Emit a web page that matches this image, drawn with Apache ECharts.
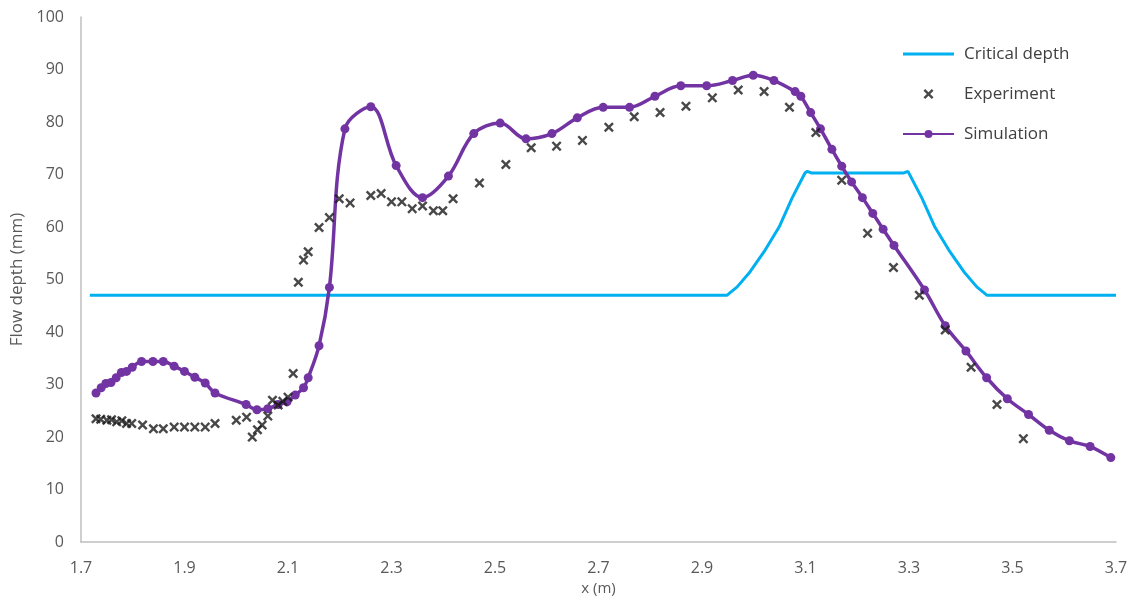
<!DOCTYPE html>
<html>
<head>
<meta charset="utf-8">
<script src="https://cdn.jsdelivr.net/npm/echarts@6/dist/echarts.min.js"></script>
<style>
  html, body { margin: 0; padding: 0; background: #ffffff; }
  #chart { width: 1134px; height: 601px; }
</style>
</head>
<body>
<div id="chart"></div>
<script>
// Critical depth along the flume (x in m, depth in mm)
const criticalX = [1.717, 2.948, 2.968, 2.993, 3.020, 3.049, 3.074, 3.099, 3.103, 3.112, 3.290, 3.298, 3.300, 3.325, 3.350, 3.379, 3.406, 3.431, 3.451, 3.700];
const criticalY = [47.0, 47.0, 48.6, 51.5, 55.3, 60.0, 65.5, 70.3, 70.6, 70.3, 70.3, 70.6, 70.3, 65.5, 60.0, 55.3, 51.5, 48.6, 47.0, 47.0];

// Measured flow depth
const experimentX = [1.729, 1.738, 1.750, 1.759, 1.769, 1.779, 1.788, 1.798, 1.819, 1.840, 1.859, 1.880, 1.900, 1.920, 1.940, 1.959,
  2.000, 2.020, 2.031, 2.041, 2.050, 2.061, 2.070, 2.081, 2.090, 2.100, 2.110, 2.120, 2.130, 2.139, 2.160, 2.180, 2.199, 2.220,
  2.260, 2.280, 2.300, 2.320, 2.340, 2.360, 2.381, 2.399, 2.419, 2.470, 2.521, 2.570, 2.619, 2.669, 2.720, 2.769, 2.819, 2.869,
  2.920, 2.970, 3.020, 3.069, 3.120, 3.170, 3.220, 3.270, 3.320, 3.370, 3.420, 3.470, 3.521];
const experimentY = [23.5, 23.4, 23.2, 23.3, 22.9, 23.1, 22.6, 22.6, 22.3, 21.6, 21.6, 21.9, 21.9, 21.9, 21.9, 22.6,
  23.2, 23.8, 20.0, 21.4, 22.3, 24.0, 27.0, 26.1, 26.8, 27.6, 32.1, 49.5, 53.7, 55.3, 59.9, 61.8, 65.4, 64.6,
  66.0, 66.4, 64.8, 64.8, 63.5, 64.0, 63.1, 63.1, 65.4, 68.4, 71.9, 75.1, 75.4, 76.5, 79.0, 81.0, 81.8, 83.0,
  84.6, 86.1, 85.8, 82.8, 78.0, 68.9, 58.8, 52.3, 47.0, 40.4, 33.3, 26.2, 19.7];

// Simulated flow depth
const simulationX = [1.729, 1.739, 1.748, 1.758, 1.768, 1.778, 1.788, 1.799, 1.817, 1.839, 1.859, 1.880, 1.900, 1.920, 1.940, 1.959,
  2.019, 2.040, 2.061, 2.081, 2.098, 2.114, 2.130, 2.139, 2.160, 2.180, 2.210, 2.260, 2.309, 2.360, 2.410, 2.459, 2.510,
  2.560, 2.610, 2.659, 2.709, 2.760, 2.809, 2.859, 2.909, 2.959, 2.999, 3.039, 3.080, 3.091, 3.110, 3.129, 3.151, 3.170,
  3.189, 3.210, 3.230, 3.250, 3.271, 3.330, 3.370, 3.410, 3.450, 3.490, 3.531, 3.571, 3.610, 3.650, 3.690];
const simulationY = [28.4, 29.4, 30.2, 30.4, 31.3, 32.3, 32.5, 33.3, 34.4, 34.4, 34.4, 33.5, 32.5, 31.4, 30.3, 28.4,
  26.2, 25.2, 25.4, 26.2, 26.7, 28.0, 29.4, 31.3, 37.4, 48.5, 78.7, 82.9, 71.7, 65.6, 69.7, 77.8, 79.8,
  76.8, 77.8, 80.8, 82.8, 82.8, 84.9, 86.9, 86.9, 87.9, 88.9, 87.9, 85.8, 84.9, 81.8, 78.7, 74.8, 71.6,
  68.6, 65.6, 62.6, 59.6, 56.5, 48.0, 41.2, 36.4, 31.3, 27.3, 24.3, 21.3, 19.3, 18.2, 16.1];

// Axis settings
const xMin = 1.7, xMax = 3.7, xStep = 0.2;
const yMin = 0, yMax = 100, yStep = 10;

const pairs = (xs, ys) => xs.map((x, i) => [x, ys[i]]);

// Filled "×" glyph used for the measured points
const crossPath = 'path://M0,1.7L1.7,0L5,3.3L8.3,0L10,1.7L6.7,5L10,8.3L8.3,10L5,6.7L1.7,10L0,8.3L3.3,5Z';
// Plain bar used as the legend icon of the critical-depth line
const barIcon = 'path://M0,0H51V3H0Z';

const FONT = "'Open Sans', 'Noto Sans', 'DejaVu Sans', sans-serif";
const axisGrey = '#bfbfbf';
const textGrey = '#595959';
const blue = '#00b0f0';
const purple = '#7234a2';

const chart = echarts.init(document.getElementById('chart'), null, { renderer: 'canvas' });

chart.setOption({
  animation: false,
  backgroundColor: '#ffffff',
  textStyle: { fontFamily: FONT },
  grid: { left: 81, right: 18, top: 17, bottom: 57.5, containLabel: false },
  legend: {
    orient: 'vertical',
    left: 897,
    top: 39,
    itemWidth: 51,
    itemHeight: 10,
    itemGap: 20,
    textStyle: { fontFamily: FONT, fontSize: 17, color: '#404040', lineHeight: 20, padding: [0, 0, 0, 5] },
    data: [
      { name: 'Critical depth', icon: barIcon, itemStyle: { color: blue } },
      'Experiment',
      'Simulation'
    ]
  },
  xAxis: {
    type: 'value',
    min: xMin,
    max: xMax,
    interval: xStep,
    name: 'x (m)',
    nameLocation: 'middle',
    nameGap: 34,
    nameTextStyle: { fontFamily: FONT, fontSize: 15, color: textGrey },
    axisLine: { show: true, onZero: false, lineStyle: { color: axisGrey, width: 1.5 } },
    axisTick: { show: false },
    splitLine: { show: false },
    axisLabel: {
      margin: 18,
      fontFamily: FONT,
      fontSize: 16,
      color: textGrey,
      formatter: v => v.toFixed(1)
    }
  },
  yAxis: {
    type: 'value',
    min: yMin,
    max: yMax,
    interval: yStep,
    name: 'Flow depth (mm)',
    nameLocation: 'middle',
    nameGap: 51,
    nameTextStyle: { fontFamily: FONT, fontSize: 17, color: textGrey },
    axisLine: { show: true, lineStyle: { color: axisGrey, width: 1.5 } },
    axisTick: { show: false },
    splitLine: { show: false },
    axisLabel: { margin: 17, fontFamily: FONT, fontSize: 16, color: textGrey }
  },
  series: [
    {
      name: 'Critical depth',
      type: 'line',
      data: pairs(criticalX, criticalY),
      showSymbol: false,
      symbol: 'none',
      smooth: false,
      lineStyle: { color: blue, width: 3 },
      itemStyle: { color: blue },
      z: 2
    },
    {
      name: 'Experiment',
      type: 'scatter',
      data: pairs(experimentX, experimentY),
      symbol: crossPath,
      symbolSize: 10,
      itemStyle: { color: '#1a1a1a' },
      z: 4
    },
    {
      name: 'Simulation',
      type: 'line',
      data: pairs(simulationX, simulationY),
      smooth: 0.35,
      symbol: 'circle',
      symbolSize: 9,
      showAllSymbol: true,
      lineStyle: { color: purple, width: 3.5 },
      itemStyle: { color: purple },
      z: 3
    }
  ]
});
</script>
</body>
</html>
